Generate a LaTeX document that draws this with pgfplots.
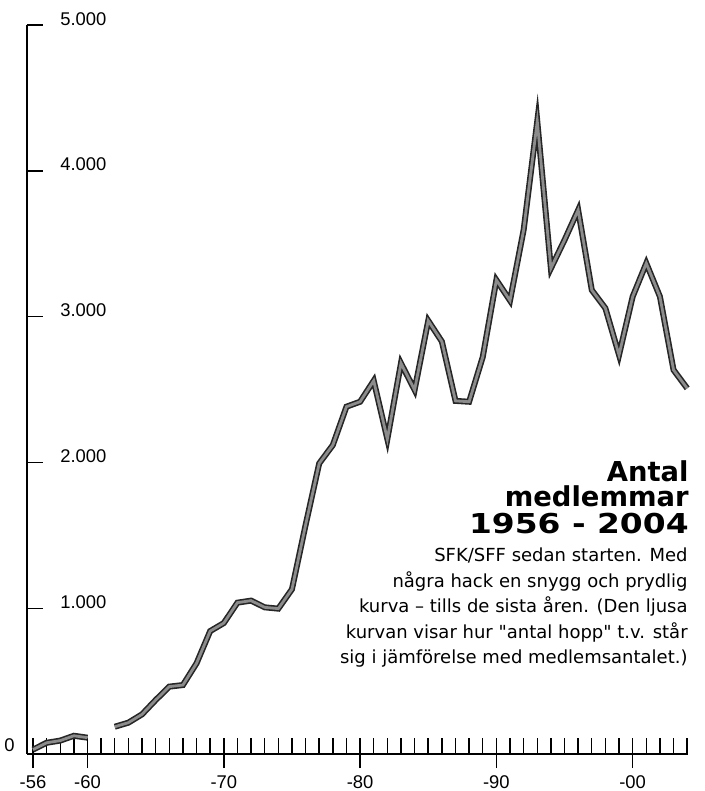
\documentclass[border=0pt]{standalone}
\usepackage{fontspec}
\usepackage{pgfplots}
\pgfplotsset{compat=1.18}
\setmainfont{Liberation Sans}
\newfontfamily\titlefont{DejaVu Sans}
\newfontfamily\yearfont{DejaVu Sans}[FakeStretch=1.2]
\newfontfamily\bodyfont{DejaVu Sans}
\begin{document}
\begin{tikzpicture}
\useasboundingbox (-13.5bp,-18.5bp) rectangle (339bp,377bp);
\begin{axis}[
  at={(0,0)}, anchor=south west,
  width=330.5bp, height=364.5bp, scale only axis,
  xmin=1955.56, xmax=2004.06, ymin=0, ymax=5000,
  clip=false,
  axis x line*=bottom, axis y line*=left,
  axis line style={line width=0.75bp, black},
  every tick/.style={line width=0.7bp, black},
  /pgf/number format/assume math mode=true,
  ticklabel style={font=\fontsize{9.2bp}{10bp}\selectfont},
  xtick={1956,1960,1970,1980,1990,2000},
  xticklabels={-56,-60,-70,-80,-90,-00},
  minor xtick={1957,...,2004},
  xtick align=inside,
  major tick length=8bp, minor tick length=8bp,
  extra x ticks={1956,1960,1970,1980,1990,2000},
  extra x tick labels={},
  extra x tick style={xtick align=outside, major tick length=7bp, minor tick length=0pt},
  xticklabel style={anchor=base, yshift=-17bp},
  ytick={1000,2000,3000,4000,5000},
  yticklabels={1.000,2.000,3.000,4.000,5.000},
  ytick align=inside,
  yticklabel style={anchor=base west, inner sep=0pt, xshift=16.5bp},
]
\addplot[draw=black!85, line width=0.8bp, double=black!45, double distance=1.4bp, line join=miter, no markers]
coordinates {(1956,30) (1957,77) (1958,92) (1959,125) (1960,112)};
\addplot[draw=black!85, line width=0.8bp, double=black!45, double distance=1.4bp, line join=miter, no markers]
coordinates {
(1962,187) (1963,215) (1964,272) (1965,370) (1966,462) (1967,473) (1968,622) (1969,843)
(1970,898) (1971,1038) (1972,1052) (1973,1006) (1974,997) (1975,1130) (1976,1570) (1977,1993)
(1978,2119) (1979,2382) (1980,2416) (1981,2560) (1982,2160) (1983,2680) (1984,2497) (1985,2972)
(1986,2829) (1987,2422) (1988,2416) (1989,2723) (1990,3251) (1991,3110) (1992,3594) (1993,4340)
(1994,3331) (1995,3525) (1996,3731) (1997,3182) (1998,3057) (1999,2737) (2000,3137) (2001,3366)
(2002,3137) (2003,2634) (2004,2508)};
\end{axis}
\node[anchor=base east, inner sep=0pt, font=\fontsize{9.2bp}{10bp}\selectfont] at (-6bp,1.5bp) {0};
\begin{scope}[every node/.style={anchor=base east, inner sep=0pt}]
\node[font=\titlefont\bfseries\fontsize{13.7bp}{14bp}\selectfont] at (331bp,136bp) {Antal};
\node[font=\titlefont\bfseries\fontsize{13.7bp}{14bp}\selectfont] at (331bp,123.5bp) {medlemmar};
\node[font=\yearfont\bfseries\fontsize{13.7bp}{14bp}\selectfont] at (331bp,110bp) {1956 - 2004};
\node[font=\bodyfont\fontsize{9bp}{10bp}\selectfont] at (330.5bp,96bp) {SFK/SFF sedan starten. Med};
\node[font=\bodyfont\fontsize{9bp}{10bp}\selectfont] at (330.5bp,83.25bp) {några hack en snygg och prydlig};
\node[font=\bodyfont\fontsize{9bp}{10bp}\selectfont] at (330.5bp,70.5bp) {kurva – tills de sista åren. (Den ljusa};
\node[font=\bodyfont\fontsize{9bp}{10bp}\selectfont] at (330.5bp,57.75bp) {kurvan visar hur "antal hopp" t.v. står};
\node[font=\bodyfont\fontsize{9bp}{10bp}\selectfont] at (330.5bp,45bp) {sig i jämförelse med medlemsantalet.)};
\end{scope}
\end{tikzpicture}
\end{document}
